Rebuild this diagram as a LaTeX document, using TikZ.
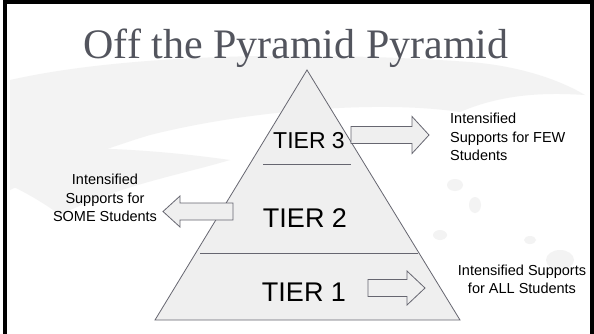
\documentclass[tikz,border=0pt]{standalone}
\usepackage{fontspec}
\setmainfont{Liberation Serif}
\newfontfamily\arialfont{Liberation Sans}
\definecolor{titlegray}{HTML}{53555E}
\definecolor{pyrfill}{HTML}{EFEFEF}
\definecolor{pyrline}{HTML}{666670}
\definecolor{brush}{HTML}{F3F3F3}
\begin{document}
\begin{tikzpicture}[x=1pt,y=-1pt,
  lbl/.style={font=\arialfont\fontsize{14.5}{18.3}\selectfont, inner sep=0pt, text=black},
  tier/.style={font=\arialfont\fontsize{#1}{#1}\selectfont, inner sep=0pt, anchor=base, text=black},
  fatarrow/.style={fill=pyrfill, draw=pyrline, line width=0.8pt, line join=miter},
  divider/.style={draw=pyrline, line width=0.8pt},
  brushfill/.style={fill=brush, draw=none}]
\useasboundingbox (0,0) rectangle (594,333);
\fill[white] (0,0) rectangle (594,333);
% faint brush strokes in the background
\path[brushfill] (10,80) .. controls (120,55) and (300,50) .. (470,62)
  .. controls (520,66) and (560,80) .. (585,95)
  .. controls (540,92) and (500,95) .. (460,112)
  .. controls (380,100) and (250,110) .. (150,135)
  .. controls (100,150) and (50,170) .. (10,190) -- cycle;
\path[brushfill] (10,150) .. controls (80,145) and (160,150) .. (230,160)
  .. controls (180,175) and (120,185) .. (60,215)
  .. controls (40,200) and (20,190) .. (10,185) -- cycle;
\path[brushfill] (455,185) ellipse (8 and 6);
\path[brushfill] (475,205) ellipse (6 and 8);
\path[brushfill] (440,235) ellipse (7 and 5);
\path[brushfill] (560,260) ellipse (14 and 10);
\path[brushfill] (530,240) ellipse (6 and 4);
% frame
\draw[line width=4pt, black] (4.5,340) -- (4.5,1.5) -- (591.5,1.5) -- (591.5,340);
% title
\node[font=\fontsize{42}{46}\selectfont, text=titlegray, anchor=base, inner sep=0pt] (title) at (296,58) {Off the Pyramid Pyramid};
% pyramid
\coordinate (apex) at (307,70);
\coordinate (bl) at (155,320);
\coordinate (br) at (460,320);
\draw[fill=pyrfill, draw=pyrline, line width=0.8pt, line join=miter] (apex) -- (br) -- (bl) -- cycle;
\coordinate (d3l) at (263,164.5);
\coordinate (d3r) at (351,164.5);
\coordinate (d2l) at (200,253);
\coordinate (d2r) at (418,253);
\draw[divider] (d3l) -- (d3r);
\draw[divider] (d2l) -- (d2r);
% tier labels
\node[tier=23] (t3) at (309,148) {TIER 3};
\node[tier=27] (t2) at (305,227) {TIER 2};
\node[tier=27] (t1) at (304,301) {TIER 1};
% arrows
\draw[fatarrow] (351,126.5) -- (412,126.5) -- (412,116.5) -- (429,135) -- (412,153.5) -- (412,143.5) -- (351,143.5) -- cycle;
\draw[fatarrow] (233,203) -- (180,203) -- (180,196) -- (163,211.5) -- (180,227) -- (180,220) -- (233,220) -- cycle;
\draw[fatarrow] (368,279.5) -- (407,279.5) -- (407,271) -- (425,288) -- (407,305) -- (407,296.5) -- (368,296.5) -- cycle;
% side labels
\node[lbl, align=left, anchor=west] (few) at (450,137) {Intensified\\Supports for FEW\\Students};
\node[lbl, align=center] (some) at (105,198) {Intensified\\Supports for\\SOME Students};
\node[lbl, align=center] (all) at (522,279) {Intensified Supports\\for ALL Students};
\end{tikzpicture}
\end{document}
